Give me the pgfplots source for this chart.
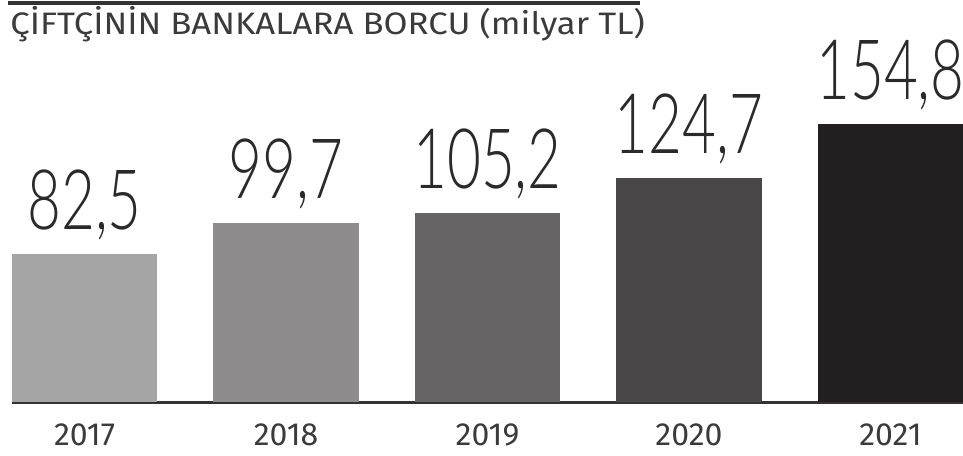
\documentclass[border=0pt]{standalone}
\usepackage{pgfplots}
\pgfplotsset{compat=1.18}
\usepackage{fontspec}
\setmainfont{Fira Sans}
\newfontfamily\lightfont{Lato Light}[FakeStretch=0.70]
\newfontfamily\titlefont{Fira Sans}[FakeStretch=1.12]
\newfontfamily\yearfont{Fira Sans}[FakeStretch=1.0]
\definecolor{cA}{HTML}{A5A5A5}
\definecolor{cB}{HTML}{8E8C8D}
\definecolor{cC}{HTML}{676465}
\definecolor{cD}{HTML}{4A4748}
\definecolor{cE}{HTML}{231F20}
\definecolor{baseclr}{HTML}{333333}
\definecolor{txtclr}{HTML}{3B3B3B}
\definecolor{numclr}{HTML}{2A2A2A}

\begin{document}
\begin{tikzpicture}[x=1pt,y=1pt]
\begin{axis}[
  at={(6pt,26.5pt)}, anchor=south west,
  scale only axis, width=475.5pt, height=201pt,
  xmin=-0.36, xmax=4.36, ymin=0, ymax=224.1,
  axis x line=bottom, axis y line=none,
  x axis line style={-, line width=1.5pt, color=baseclr},
  ybar, bar width=0.724,
  xtick={0,1,2,3,4}, xticklabels={2017,2018,2019,2020,2021},
  major tick length=0pt,
  xticklabel style={anchor=base, yshift=-21.5pt, inner sep=0pt,
    font=\yearfont\fontsize{16}{16}\selectfont, text=txtclr},
  point meta=explicit symbolic,
  nodes near coords,
  every node near coord/.append style={anchor=base, yshift=12.5pt, inner sep=0pt,
    font=\lightfont\fontsize{41.7}{42}\selectfont, text=numclr},
  clip=false,
]
\addplot[draw=none, fill=cA, bar shift=0] coordinates {(0,82.5)[82,5]};
\addplot[draw=none, fill=cB, bar shift=0] coordinates {(1,99.7)[99,7]};
\addplot[draw=none, fill=cC, bar shift=0] coordinates {(2,105.2)[105,2]};
\addplot[draw=none, fill=cD, bar shift=0] coordinates {(3,124.7)[124,7]};
\addplot[draw=none, fill=cE, bar shift=0] coordinates {(4,154.8)[154,8]};
\end{axis}
\draw[line width=2pt, color=baseclr] (4,226) -- (320,226);
\node[anchor=base west, inner sep=0pt, text=txtclr,
  font=\titlefont\fontsize{15.5}{16}\selectfont] at (5,210)
  {ÇİFTÇİNİN BANKALARA BORCU (milyar TL)};
\pgfresetboundingbox
\path[use as bounding box] (0,0) rectangle (481.5,227.5);
\end{tikzpicture}
\end{document}
